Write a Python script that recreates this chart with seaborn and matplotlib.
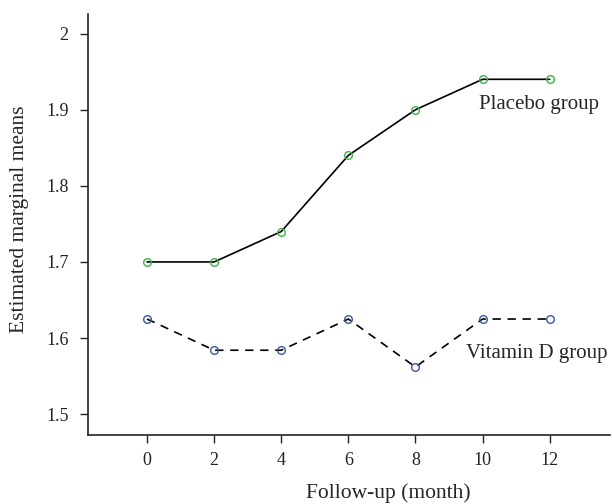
import matplotlib
matplotlib.use("Agg")
import matplotlib.pyplot as plt
import seaborn as sns
import pandas as pd

months = [0, 2, 4, 6, 8, 10, 12]
placebo = [1.70, 1.70, 1.74, 1.84, 1.90, 1.94, 1.94]
vitamin_d = [1.625, 1.584, 1.584, 1.625, 1.562, 1.625, 1.625]

df_p = pd.DataFrame({"month": months, "mean": placebo})
df_v = pd.DataFrame({"month": months, "mean": vitamin_d})

sns.set_style("ticks")
plt.rcParams["font.family"] = ["Liberation Serif", "DejaVu Serif"]

fig = plt.figure(figsize=(6.12, 5.04), dpi=100)
ax = fig.add_axes([0.1438, 0.1375, 0.853, 0.835])

sns.lineplot(data=df_p, x="month", y="mean", ax=ax, color="black", lw=1.2,
             marker="o", markersize=5.5, markerfacecolor="none",
             markeredgecolor="#3cb44b", markeredgewidth=1.0)
sns.lineplot(data=df_v, x="month", y="mean", ax=ax, color="black", lw=1.2,
             linestyle=(0, (5, 4)), marker="o", markersize=5.5,
             markerfacecolor="none", markeredgecolor="#3a55a8",
             markeredgewidth=1.0)

ax.text(9.9, 1.907, "Placebo group", fontsize=15, va="center", ha="left")
ax.text(9.5, 1.58, "Vitamin D group", fontsize=15, va="center", ha="left")

ax.set_xlim(-1.76, 13.8)
ax.set_ylim(1.473, 2.026)
ax.set_xticks(months)
ax.set_yticks([1.5, 1.6, 1.7, 1.8, 1.9, 2.0])
ax.set_yticklabels(["1.5", "1.6", "1.7", "1.8", "1.9", "2"])
ax.tick_params(labelsize=13, length=5.5, width=1, direction="out", colors="#222222")
ax.tick_params(axis="x", pad=7)
ax.tick_params(axis="y", pad=8.5)
ax.set_xlabel("Follow-up (month)", fontsize=15.5, va="center")
ax.set_ylabel("Estimated marginal means", fontsize=15.5, va="center")
ax.xaxis.set_label_coords(0.575, -0.1386)
ax.yaxis.set_label_coords(-0.132, 0.5127)
sns.despine(ax=ax)
for s in ["left", "bottom"]:
    ax.spines[s].set_linewidth(1.2)
    ax.spines[s].set_color("#222222")

fig.savefig("out.png", dpi=100)
